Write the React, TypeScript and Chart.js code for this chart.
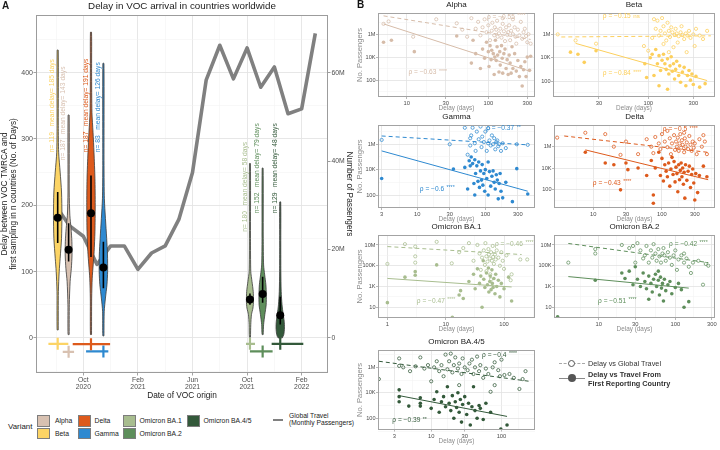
import React, { useEffect, useRef } from 'react';
import { Chart, registerables } from 'chart.js';

Chart.register(...registerables);

const FONT = '"Liberation Sans", Arial, Helvetica, sans-serif';

// ================= Panel A data =================
const variants = ['Beta', 'Alpha', 'Delta', 'Gamma', 'Omicron BA.1', 'Omicron BA.2', 'Omicron BA.4/5'];
const variantColors = ['#FCD465', '#D8C1B1', '#DD5A1C', '#2E89D0', '#A8BD8F', '#5E8E5B', '#33593A'];
// date of VOC origin, in months since Jan 2020
const originDate = [7.12, 7.92, 9.56, 10.47, 21.21, 22.14, 23.43];
const originLow = [6.44, 7.49, 8.22, 9.2, 20.92, 21.21, 22.8];
const originHigh = [7.9, 8.32, 10.96, 10.83, 21.58, 22.87, 25.12];
const originRow = [-9, -21, -9.5, -20.5, -9, -20.5, -9];
const violinDelay = [
  [12, 70, 100, 120, 150, 185, 220, 250, 280, 320, 434],
  [5, 50, 85, 105, 125, 145, 165, 185, 220, 336],
  [5, 60, 90, 110, 130, 160, 200, 240, 280, 310, 340, 400, 461],
  [3, 40, 60, 80, 100, 125, 150, 180, 210, 260, 414],
  [1, 20, 35, 45, 55, 70, 85, 100, 150, 263],
  [5, 20, 35, 50, 65, 80, 95, 110, 150, 256],
  [0, 5, 15, 25, 35, 50, 70, 100, 140, 205],
];
const violinHalfWidth = [
  [0.04, 0.05, 0.11, 0.18, 0.28, 0.31, 0.28, 0.18, 0.07, 0.045, 0.04],
  [0.04, 0.05, 0.11, 0.2, 0.25, 0.24, 0.18, 0.09, 0.045, 0.04],
  [0.04, 0.05, 0.09, 0.16, 0.23, 0.29, 0.31, 0.29, 0.22, 0.15, 0.07, 0.045, 0.04],
  [0.04, 0.06, 0.15, 0.26, 0.31, 0.3, 0.24, 0.15, 0.07, 0.045, 0.04],
  [0.04, 0.06, 0.11, 0.22, 0.26, 0.24, 0.15, 0.06, 0.04, 0.035],
  [0.04, 0.07, 0.16, 0.26, 0.27, 0.24, 0.15, 0.07, 0.045, 0.035],
  [0.15, 0.26, 0.31, 0.29, 0.22, 0.13, 0.07, 0.045, 0.04, 0.035],
];
const meanDelay = [181, 133, 188, 106, 58, 66, 34];
const meanLow = [143, 115, 122, 75, 50, 53, 20];
const meanHigh = [220, 173, 245, 145, 67, 92, 62];
const nCountries = [119, 187, 187, 83, 180, 152, 129];
const meanDelayDays = [185, 143, 191, 126, 58, 79, 48];
const labelStart = [280, 268, 280, 280, 160, 188, 188];

const travelMonth = [7, 8, 9, 10, 11, 12, 13, 14, 15, 16, 17, 18, 19, 20, 21, 22, 23, 24, 25, 26];
const travelPassengers = [29.8e6, 25.3e6, 23.0e6, 16.6e6, 20.8e6, 20.8e6, 15.5e6, 19.2e6, 20.8e6, 26.8e6,
  37.4e6, 58.3e6, 66.2e6, 58.6e6, 65.6e6, 56.7e6, 61.3e6, 50.7e6, 51.8e6, 68.9e6];

const monthTicks = [9, 13, 17, 21, 25];
const monthTickLabels = [['Oct', '2020'], ['Feb', '2021'], ['Jun', '2021'], ['Oct', '2021'], ['Feb', '2022']];
const monthMinorTicks = [7, 11, 15, 19, 23];
const delayTicks = [0, 100, 200, 300, 400];
const delayMinorTicks = [-50, 50, 150, 250, 350, 450];
const passengerTicks = [0, 2e7, 4e7, 6e7];
const passengerTickLabels = ['0', '20M', '40M', '60M'];

// ================= Panel B data =================
const bNames = ['Alpha', 'Beta', 'Gamma', 'Delta', 'Omicron BA.1', 'Omicron BA.2', 'Omicron BA.4/5'];
const bColors = ['#D6BCA9', '#FCCF5C', '#2E89D0', '#DD5A1C', '#A8BD8F', '#5E8E5B', '#33593A'];

const alphaGlobal = [[5.2, 8e6], [6, 1.3e7], [12, 6e5], [23, 2e7], [41, 9e6], [48, 2.5e6], [55, 6e5], [62, 2.5e7], [70, 3e6], [75, 1.2e7], [80, 8e5], [85, 4e6], [90, 2e7], [95, 1.5e6], [100, 6e6], [105, 3e5], [110, 2e6], [112, 1e7], [118, 8e5], [120, 4e6], [125, 2.5e6], [128, 1.5e7], [130, 6e5], [135, 1.2e6], [140, 3e6], [145, 5e5], [150, 8e6], [150, 2.5e7], [155, 1.8e6], [160, 2.5e5], [165, 4e6], [170, 9e5], [175, 1.5e6], [180, 6e6], [185, 3e5], [190, 2e6], [200, 1e6], [200, 2e7], [210, 4e6], [215, 6e5], [220, 1.5e5], [230, 2.5e6], [240, 8e5], [250, 1.2e7], [260, 4e5], [270, 1.5e6], [280, 3e6], [290, 7e5], [300, 2e5], [310, 1e6], [330, 1.5e5]];
const alphaFirst = [[5.2, 2e5], [6.5, 3e5], [12.4, 3e4], [41, 7e5], [62, 3e3], [65, 3e5], [70, 2e4], [80, 1e3], [85, 5e4], [90, 8e3], [95, 2e5], [100, 3e4], [102, 1.5e3], [105, 1e5], [108, 6e3], [110, 4e4], [115, 2e4], [118, 300], [120, 1e4], [122, 3e5], [125, 5e3], [128, 8e4], [130, 1.5e4], [135, 500], [138, 3e4], [140, 2e3], [145, 1e5], [148, 8e3], [150, 400], [155, 2e4], [160, 5e4], [165, 1e3], [170, 6e3], [175, 300], [180, 1.5e4], [185, 3e3], [190, 400], [195, 8e4], [200, 1e3], [210, 2e4], [220, 600], [230, 5e3], [240, 200], [250, 1.5e3], [260, 30], [270, 800], [280, 4e3], [290, 200], [300, 1e4], [320, 700], [330, 1.2e4]];
const alphaGlobalFit = [[5.2, 4e7], [330, 3.5e5]];
const alphaFirstFit = [[5.2, 8e6], [320, 600]];

const betaGlobal = [[11, 1e6], [17, 3e5], [28, 1.6e5], [90, 1e5], [100, 4e4], [110, 5e5], [115, 2e7], [120, 3e6], [125, 1.5e7], [130, 8e5], [135, 2e6], [140, 2.5e7], [145, 5e6], [145, 1.5e5], [150, 1.2e6], [155, 3e5], [160, 1e7], [165, 2e6], [165, 3e4], [170, 6e5], [175, 4e6], [180, 1.5e6], [185, 8e4], [190, 9e5], [195, 3e6], [200, 1.2e6], [205, 2e5], [210, 7e5], [220, 1.5e6], [225, 5e6], [230, 9e5], [240, 4e5], [250, 1.2e6], [255, 3e4], [260, 8e5], [270, 2e6], [280, 5e5], [300, 1e6], [310, 1e5], [320, 3e6], [350, 8e5], [380, 4e5], [420, 2e6]];
const betaFirst = [[15, 3e4], [18, 2e4], [21, 4e3], [28, 4e4], [92, 3e3], [96, 200], [105, 1e4], [110, 2e4], [115, 300], [120, 5e4], [125, 3e3], [130, 1.5e4], [130, 40], [135, 800], [140, 6e3], [145, 2e4], [150, 3e3], [155, 1e3], [160, 8e3], [160, 20], [165, 400], [170, 2e3], [175, 1.2e4], [180, 700], [185, 3e3], [190, 150], [195, 1e3], [200, 5e3], [210, 300], [215, 2e3], [220, 80], [230, 600], [240, 1.5e3], [250, 40], [260, 300], [270, 800], [280, 120], [290, 400], [300, 50], [320, 250], [350, 30], [400, 60]];
const betaGlobalFit = [[12, 6e5], [460, 7.5e5]];
const betaFirstFit = [[17, 1.7e5], [420, 110]];

const gammaGlobal = [[3, 2.2e6], [30, 1e6], [50, 2e7], [55, 1.5e5], [60, 8e5], [60, 3e6], [62, 5e6], [65, 2e7], [70, 1.2e6], [72, 3e5], [75, 1e7], [80, 2.5e6], [85, 2.5e7], [88, 6e5], [90, 4e6], [95, 1.5e6], [100, 1e7], [105, 3e5], [110, 1.2e6], [110, 1.8e7], [115, 2e6], [120, 8e5], [125, 5e6], [130, 1e6], [135, 3e6], [140, 4e5], [145, 1.5e6], [150, 2e6], [155, 7e5], [160, 1e6], [170, 3e5], [180, 1.2e6], [200, 5e5], [290, 1e6], [420, 9e5]];
const gammaFirst = [[3, 2e3], [34, 1.1e4], [50, 1.5e4], [55, 300], [58, 5e4], [60, 2e4], [62, 1e5], [65, 3e4], [68, 800], [70, 6e4], [70, 100], [72, 5e3], [75, 2e4], [78, 1.2e3], [80, 4e4], [82, 400], [85, 8e3], [88, 1.5e3], [90, 2.5e4], [92, 600], [95, 5e3], [98, 200], [100, 1e4], [105, 2e3], [110, 100], [110, 4e4], [115, 7e3], [120, 500], [125, 3e3], [130, 8e3], [135, 1e3], [140, 300], [145, 4e3], [150, 1.5e3], [155, 50], [160, 800], [165, 5e3], [170, 200], [180, 60], [200, 1e3], [250, 30], [290, 1.2e4], [420, 120]];
const gammaGlobalFit = [[3, 4.5e6], [420, 9e5]];
const gammaFirstFit = [[3, 3e5], [420, 200]];

const deltaGlobal = [[3, 7e6], [7.7, 2e7], [15, 1.5e7], [20, 1e6], [25, 1.7e5], [30, 3e6], [45, 2e5], [60, 5e6], [70, 1e6], [75, 2.5e5], [80, 8e6], [90, 2e6], [95, 6e5], [100, 1.5e7], [110, 3e6], [120, 9e5], [120, 3e7], [130, 6e6], [135, 2e5], [140, 2e6], [150, 1.2e7], [155, 5e5], [160, 3e6], [165, 1e6], [170, 7e6], [175, 4e5], [180, 2e6], [185, 1.5e7], [190, 8e5], [195, 4e6], [200, 1.5e6], [210, 3e5], [210, 2e7], [215, 6e6], [220, 1e6], [230, 2.5e6], [240, 6e5], [250, 1e7], [260, 1.5e6], [270, 4e5], [280, 3e6], [290, 8e5], [300, 2e6], [320, 2e5], [350, 5e6], [380, 1e6], [400, 1.2e7], [420, 3e6], [450, 2e5]];
const deltaFirst = [[7.7, 3e5], [15, 3e4], [20, 2e4], [25, 90], [30, 3e4], [32, 7e3], [45, 1e4], [60, 2e3], [70, 5e4], [75, 30], [75, 5], [80, 1e4], [90, 3e5], [95, 2e3], [100, 8e4], [105, 600], [110, 2e4], [115, 5e3], [120, 1.5e3], [125, 3e4], [130, 200], [135, 8e3], [140, 1e5], [145, 2.5e3], [150, 4e4], [155, 500], [160, 1.2e4], [165, 3e3], [170, 60], [175, 2e4], [180, 800], [185, 6e3], [190, 3e4], [195, 1.5e3], [200, 1e4], [205, 300], [210, 4e3], [215, 15], [220, 2e4], [230, 700], [240, 5e3], [250, 1.5e4], [260, 150], [270, 2.5e3], [280, 8e3], [290, 400], [300, 10], [310, 3e3], [330, 50], [350, 2e3], [400, 1.5e4], [450, 1.5e3]];
const deltaGlobalFit = [[3.8, 1e7], [500, 2.8e5]];
const deltaFirstFit = [[7.7, 5e5], [470, 800]];

const ba1Global = [[1, 1.5e5], [2, 1.2e7], [3, 7e6], [3, 8e5], [3, 2e5], [7, 2e7], [12.7, 1.7e5], [17, 2e6], [20, 5e6], [25, 1.5e7], [30, 3e5], [35, 1e7], [38, 1.5e6], [40, 4e4], [42, 6e5], [45, 3e6], [47, 1.2e5], [48, 1.5e7], [50, 8e5], [50, 3e4], [52, 2.5e5], [54, 4e6], [55, 1.2e6], [57, 5e5], [58, 1.5e4], [60, 2e6], [60, 5e3], [62, 3e5], [64, 8e6], [65, 7e5], [67, 1.5e5], [70, 1.2e6], [72, 4e5], [75, 3e6], [80, 6e5], [85, 1e5], [90, 2e6], [95, 3e5], [100, 5e4], [110, 1e6], [130, 4e3], [135, 1.5e4], [190, 4e5], [250, 4e5]];
const ba1First = [[1, 28], [2, 8e3], [3, 2.7e4], [3, 1.2e4], [7, 1.2e5], [13, 1.1], [17, 150], [18, 400], [20, 70], [25, 3e3], [30, 1.5e4], [32, 600], [35, 5e4], [38, 2e3], [40, 1e4], [42, 10], [44, 3e5], [45, 5e3], [47, 800], [50, 2e4], [52, 1.5e3], [54, 6e4], [55, 300], [57, 3e3], [58, 1e4], [60, 500], [62, 4e4], [63, 2e3], [65, 800], [67, 6e3], [70, 200], [72, 1.5e4], [75, 1e3], [80, 4e3], [85, 100], [90, 2e3], [100, 600], [120, 8e3], [135, 40]];
const ba1GlobalFit = [[1, 7e6], [200, 1.2e6]];
const ba1FirstFit = [[1, 6e3], [135, 900]];

const ba2Global = [[4, 2e5], [9, 4e6], [9, 1.5e6], [20, 1e7], [25, 5e6], [28, 8e6], [30, 2e5], [32, 1.5e7], [35, 3e6], [38, 5e5], [40, 1e6], [42, 8e6], [45, 2e5], [48, 3e6], [50, 6e5], [52, 1.2e7], [55, 1.5e6], [57, 3e5], [60, 4e6], [62, 8e5], [65, 2e5], [68, 1.5e6], [70, 5e6], [72, 1e6], [75, 3e5], [80, 2e6], [85, 6e5], [90, 1.2e5], [95, 1e6], [100, 3e6], [105, 4e4], [110, 4e5], [120, 1e6], [130, 2e5], [130, 1.5e6], [140, 5e5], [150, 8e4], [160, 2e4], [170, 2e5], [200, 3e5], [230, 1.5e3], [250, 1.5e5], [270, 1e5]];
const ba2First = [[2.9, 1.2], [9, 4e3], [20, 2e4], [22, 6e3], [25, 3e4], [28, 1.5e3], [30, 8e4], [32, 5e3], [35, 1e3], [38, 2e4], [40, 3e3], [42, 600], [45, 1e4], [45, 60], [48, 2e3], [50, 300], [52, 5e3], [55, 1.5e4], [57, 1e3], [60, 4e3], [60, 3e4], [62, 150], [64, 8e3], [66, 700], [68, 2e3], [70, 40], [72, 5e3], [75, 400], [80, 1.5e3], [85, 3e3], [90, 200], [100, 800], [110, 2e3], [120, 500], [130, 10], [150, 35]];
const ba2GlobalFit = [[4, 1.4e7], [270, 2e5]];
const ba2FirstFit = [[4, 9e3], [150, 700]];

const ba45Global = [[1.8, 1.2e5], [3.5, 5e6], [3.5, 1.3e6], [4, 1e6], [5, 5e5], [6, 1.2e6], [7, 6e6], [8, 8e5], [9, 1.5e6], [10, 8e4], [11, 1e6], [12, 3e6], [13, 5e5], [14, 1.5e6], [15, 2e5], [16, 1e7], [17, 7e5], [18, 3e6], [19, 1.2e7], [20, 4e5], [21, 1.5e6], [22, 6e6], [24, 8e5], [25, 2e6], [25, 4e4], [27, 3e5], [28, 5e6], [30, 1e6], [33, 6e5], [35, 2e6], [38, 4e6], [40, 3e5], [42, 1e6], [45, 7e6], [48, 5e5], [50, 1.5e6], [55, 1.5e5], [60, 8e5], [65, 3e5], [70, 1.2e4], [75, 1e6], [80, 4e4], [80, 2.5e6], [90, 6e5], [95, 2e5], [100, 4e6], [110, 2.5e5], [130, 3e5], [150, 1.5e5], [180, 2e4], [200, 1.2e5], [220, 5e5]];
const ba45First = [[3.5, 1.7e4], [3.5, 5e3], [3.5, 2e3], [4.8, 900], [7, 4e3], [7, 1.5e3], [7, 900], [10, 600], [11, 3e3], [12, 1.2e4], [13, 300], [14, 2e3], [15, 5e3], [16, 800], [17, 3e4], [18, 1.5e3], [19, 400], [20, 6e3], [21, 100], [22, 2e3], [23, 700], [24, 1e4], [25, 300], [26, 3e3], [27, 50], [28, 1.2e3], [30, 5e3], [32, 200], [34, 1.5e3], [36, 30], [38, 800], [40, 3e4], [42, 400], [45, 100], [48, 1e3], [50, 600], [55, 80], [60, 1.5e3], [70, 300], [98, 14], [120, 30]];
const ba45GlobalFit = [[1.8, 3e6], [250, 8e4]];
const ba45FirstFit = [[3.5, 6e3], [120, 140]];

const rhoGlobal = ['\u22120.55', '\u22120.15', '\u22120.37', '\u22120.5', '\u22120.46', '\u22120.42', '\u22120.4'];
const rhoGlobalSig = ['****', 'ns', '**', '****', '****', '****', '****'];
const rhoFirst = ['\u22120.63', '\u22120.84', '\u22120.6', '\u22120.43', '\u22120.47', '\u22120.51', '\u22120.39'];
const rhoFirstSig = ['****', '****', '****', '****', '****', '****', '**'];
const rhoGlobalAt = [[96, 3.2e7], [33, 3.7e7], [103, 1.8e7], [103, 4.2e7], [70, 1.25e7], [83, 1.25e7], [53, 9.2e6]];
const rhoFirstAt = [[10.5, 450], [33, 460], [10.9, 290], [9.9, 380], [3.2, 42], [9.8, 42], [2.8, 65]];

const bXRange = [[4.45, 373], [9.8, 509], [2.65, 537], [2.7, 590], [0.69, 340], [2.6, 330], [1.75, 300]];
const bYRange = [[3.3, 7.1e7], [4.3, 6.8e7], [9.5, 3.3e7], [1.8, 1.07e8], [0.93, 9.1e7], [0.93, 9.1e7], [12, 2.3e7]];
const bXTicks = [[10, 30, 100, 300], [30, 100, 300], [3, 10, 30, 100, 300], [10, 30, 100, 300], [1, 10, 100], [10, 30, 100, 300], [3, 10, 30, 100]];
const bXMinor = [[5.77, 17.3, 54.8, 173], [16.4, 54.8, 173], [5.48, 17.3, 54.8, 173], [5.77, 17.3, 54.8, 173, 520], [3.16, 31.6, 316], [5.77, 17.3, 54.8, 173], [5.48, 17.3, 54.8, 173]];
const yTicksEven = [100, 1e4, 1e6];
const yMinorEven = [10, 1e3, 1e5, 1e7];
const yTicksOdd = [10, 1e3, 1e5, 1e7];
const yMinorOdd = [1, 100, 1e4, 1e6];
const bYTicks = [yTicksEven, yTicksEven, yTicksEven, yTicksEven, yTicksOdd, yTicksOdd, yTicksEven];
const bYMinor = [yMinorEven, yMinorEven, yMinorEven, yMinorEven, yMinorOdd, yMinorOdd, yMinorEven];

const bGlobal = [alphaGlobal, betaGlobal, gammaGlobal, deltaGlobal, ba1Global, ba2Global, ba45Global];
const bFirst = [alphaFirst, betaFirst, gammaFirst, deltaFirst, ba1First, ba2First, ba45First];
const bGlobalFit = [alphaGlobalFit, betaGlobalFit, gammaGlobalFit, deltaGlobalFit, ba1GlobalFit, ba2GlobalFit, ba45GlobalFit];
const bFirstFit = [alphaFirstFit, betaFirstFit, gammaFirstFit, deltaFirstFit, ba1FirstFit, ba2FirstFit, ba45FirstFit];

// layout boxes of panel B (page pixels)
const bBoxes = [
  { x: 355, y: 0, w: 185, h: 113, l: 378, r: 535, t: 13, b: 97, yTitle: true },
  { x: 538, y: 0, w: 182, h: 113, l: 553, r: 715, t: 13, b: 97, yTitle: false },
  { x: 355, y: 110, w: 185, h: 113, l: 378, r: 535, t: 125, b: 208, yTitle: true },
  { x: 538, y: 110, w: 182, h: 113, l: 554, r: 715, t: 125, b: 208, yTitle: false },
  { x: 355, y: 220, w: 185, h: 113, l: 378, r: 535, t: 235, b: 318, yTitle: true },
  { x: 538, y: 220, w: 182, h: 113, l: 554, r: 715, t: 235, b: 318, yTitle: false },
  { x: 355, y: 330, w: 185, h: 118, l: 378, r: 535, t: 350, b: 430, yTitle: true },
];

// ================= helpers =================
const has = (arr: number[], v: number) => arr.some((a) => Math.abs(a - v) <= 1e-9 * Math.max(1, Math.abs(a)));
const fmtCount = (v: number) => (v >= 1e6 ? `${v / 1e6}M` : v >= 1e3 ? `${v / 1e3}K` : `${v}`);
const toPts = (arr: number[][]) => arr.map(([x, y]) => ({ x, y }));

function strokeFrame(ctx: CanvasRenderingContext2D, ca: any, color: string) {
  ctx.save();
  ctx.strokeStyle = color;
  ctx.lineWidth = 1;
  const l = Math.round(ca.left) + 0.5, t = Math.round(ca.top) + 0.5;
  const r = Math.round(ca.right) - 0.5, b = Math.round(ca.bottom) - 0.5;
  ctx.strokeRect(l, t, r - l, b - t);
  ctx.restore();
}

function buildA(): any {
  const datasets: any[] = [];
  datasets.push({
    data: travelMonth.map((m, i) => ({ x: m, y: travelPassengers[i] })),
    yAxisID: 'y2', borderColor: '#808080', borderWidth: 3.6, pointRadius: 0,
    borderJoinStyle: 'round', fill: false, order: 10,
  });
  variants.forEach((_, i) => {
    const c = originDate[i];
    const ys = violinDelay[i];
    const ws = violinHalfWidth[i];
    const right = ys.map((y, k) => ({ x: c + ws[k], y }));
    const left = ys.map((y, k) => ({ x: c - ws[k], y })).reverse();
    datasets.push({
      data: [...right, ...left, right[0]], yAxisID: 'y',
      borderColor: '#3a3a3a', borderWidth: 0.8, backgroundColor: variantColors[i],
      fill: 'shape', pointRadius: 0, tension: 0.25, order: 6,
    });
  });
  variants.forEach((_, i) => {
    const r = originRow[i];
    const c = originDate[i];
    datasets.push({
      data: [{ x: originLow[i], y: r }, { x: originHigh[i], y: r }, { x: c, y: null }, { x: c, y: r - 9 }, { x: c, y: r + 9 }],
      yAxisID: 'y', borderColor: variantColors[i], borderWidth: 2.2, pointRadius: 0, fill: false, order: 4,
    });
  });
  const bars: any[] = [];
  variants.forEach((_, i) => {
    bars.push({ x: originDate[i], y: meanLow[i] }, { x: originDate[i], y: meanHigh[i] }, { x: originDate[i], y: null });
  });
  datasets.push({ data: bars, yAxisID: 'y', borderColor: '#000', borderWidth: 1.6, pointRadius: 0, fill: false, order: 3 });
  datasets.push({
    data: variants.map((_, i) => ({ x: originDate[i], y: meanDelay[i] })), yAxisID: 'y',
    showLine: false, pointRadius: 4, pointBackgroundColor: '#000', pointBorderWidth: 0, order: 2,
  });

  const gridColor = (majors: number[]) => (c: any) => (c.tick && has(majors, c.tick.value) ? '#e4e4e4' : '#f1f1f1');
  const gridWidth = (majors: number[]) => (c: any) => (c.tick && has(majors, c.tick.value) ? 0.9 : 0.5);
  const tickColor = (majors: number[]) => (c: any) => (c.tick && has(majors, c.tick.value) ? '#9a9a9a' : 'rgba(0,0,0,0)');

  const deco = {
    id: 'decoA',
    afterDatasetsDraw(chart: any) {
      const { ctx, chartArea: ca, scales } = chart;
      const x = scales.x, y = scales.y;
      strokeFrame(ctx, ca, '#9c9c9c');
      ctx.save();
      variants.forEach((_, i) => {
        const px = x.getPixelForValue(originDate[i] - 0.37);
        const py = y.getPixelForValue(labelStart[i]);
        ctx.save();
        ctx.translate(px, py);
        ctx.rotate(-Math.PI / 2);
        ctx.font = `6.7px ${FONT}`;
        ctx.fillStyle = variantColors[i];
        ctx.textAlign = 'left';
        ctx.textBaseline = 'middle';
        ctx.fillText(`n= ${nCountries[i]}   mean delay= ${meanDelayDays[i]} days`, 0, 0);
        ctx.restore();
      });
      ctx.fillStyle = '#1a1a1a';
      ctx.font = `9.8px ${FONT}`;
      ctx.textAlign = 'center';
      ctx.textBaseline = 'middle';
      ctx.fillText('Delay in VOC arrival in countries worldwide', (ca.left + ca.right) / 2, 6.5);
      ctx.font = `bold 10px ${FONT}`;
      ctx.textAlign = 'left';
      ctx.fillText('A', 2, 6.5);
      ctx.restore();
    },
  };

  return {
    type: 'line',
    data: { datasets },
    plugins: [deco],
    options: {
      animation: false, responsive: false, devicePixelRatio: 1, events: [],
      layout: { padding: { top: 15, left: 0, right: 0, bottom: 0 } },
      plugins: { legend: { display: false }, tooltip: { enabled: false } },
      scales: {
        x: {
          type: 'linear', min: 5.53, max: 26.93,
          afterBuildTicks: (s: any) => { s.ticks = [...monthMinorTicks, ...monthTicks].sort((a, b) => a - b).map((v) => ({ value: v })); },
          afterFit: (s: any) => { s.height = 32; },
          ticks: {
            autoSkip: false, maxRotation: 0, padding: 1, color: '#4d4d4d',
            font: { family: FONT, size: 6.8, lineHeight: 1.05 },
            callback: (v: number) => { const k = monthTicks.indexOf(v); return k >= 0 ? monthTickLabels[k] : ''; },
          },
          grid: { color: gridColor(monthTicks), lineWidth: gridWidth(monthTicks), tickLength: 2.5, tickColor: tickColor(monthTicks) },
          border: { display: false },
          title: { display: true, text: 'Date of VOC origin', color: '#1a1a1a', font: { family: FONT, size: 8.3 }, padding: { top: 0, bottom: 4 } },
        },
        y: {
          type: 'linear', position: 'left', min: -53, max: 487,
          afterBuildTicks: (s: any) => { s.ticks = [...delayMinorTicks, ...delayTicks].sort((a, b) => a - b).map((v) => ({ value: v })); },
          afterFit: (s: any) => { s.width = 36; },
          ticks: {
            autoSkip: false, padding: 0.5, color: '#4d4d4d', font: { family: FONT, size: 7 },
            callback: (v: number) => (has(delayTicks, v) ? String(v) : ''),
          },
          grid: { color: gridColor(delayTicks), lineWidth: gridWidth(delayTicks), tickLength: 2.5, tickColor: tickColor(delayTicks) },
          border: { display: false },
          title: {
            display: true, text: ['Delay between VOC TMRCA and', 'first sampling in n countries (No. of Days)'],
            color: '#1a1a1a', font: { family: FONT, size: 8.3, lineHeight: 1.0 }, padding: { top: 1, bottom: 0 },
          },
        },
        y2: {
          type: 'linear', position: 'right', min: -7.95e6, max: 7.305e7,
          afterBuildTicks: (s: any) => { s.ticks = passengerTicks.map((v) => ({ value: v })); },
          afterFit: (s: any) => { s.width = 27; },
          ticks: {
            autoSkip: false, padding: 1, color: '#4d4d4d', font: { family: FONT, size: 6.8 },
            callback: (v: number) => passengerTickLabels[passengerTicks.indexOf(v)] ?? '',
          },
          grid: { drawOnChartArea: false, tickLength: 2.5, tickColor: '#9a9a9a' },
          border: { display: false },
          title: { display: true, text: 'Number of Passengers', color: '#1a1a1a', font: { family: FONT, size: 8.3 }, padding: { top: 1, bottom: 0 } },
        },
      },
    },
  };
}

function buildB(i: number): any {
  const box = bBoxes[i];
  const color = bColors[i];
  const xMaj = bXTicks[i], xMin = bXMinor[i];
  const yMaj = bYTicks[i], yMin = bYMinor[i];
  const datasets = [
    {
      data: toPts(bGlobal[i]), showLine: false, pointRadius: 1.6, pointBorderWidth: 0.75,
      pointBackgroundColor: 'rgba(255,255,255,0)', pointBorderColor: color, order: 4,
    },
    {
      data: toPts(bFirst[i]), showLine: false, pointRadius: 1.8, pointBorderWidth: 0,
      pointBackgroundColor: color, pointBorderColor: color, order: 3,
    },
    { data: toPts(bGlobalFit[i]), borderColor: color, borderWidth: 1, borderDash: [4, 3], pointRadius: 0, fill: false, order: 1 },
    { data: toPts(bFirstFit[i]), borderColor: color, borderWidth: 1, pointRadius: 0, fill: false, order: 1 },
  ];
  const gridColor = (majors: number[]) => (c: any) => (c.tick && has(majors, c.tick.value) ? '#e2e2e2' : '#f1f1f1');
  const gridWidth = (majors: number[]) => (c: any) => (c.tick && has(majors, c.tick.value) ? 0.8 : 0.5);
  const tickColor = (majors: number[]) => (c: any) => (c.tick && has(majors, c.tick.value) ? '#a6a6a6' : 'rgba(0,0,0,0)');

  const drawRho = (ctx: any, x: any, y: any, rho: string, sig: string, at: number[]) => {
    const px = x.getPixelForValue(at[0]);
    const py = y.getPixelForValue(at[1]);
    ctx.font = `6.6px ${FONT}`;
    ctx.textAlign = 'left';
    ctx.textBaseline = 'middle';
    const t = `\u03C1 = ${rho}`;
    ctx.fillText(t, px, py);
    const w = ctx.measureText(t).width;
    ctx.font = `${sig === 'ns' ? 6.2 : 5.2}px ${FONT}`;
    ctx.fillText(sig, px + w + 2.5, sig === 'ns' ? py : py - 1.2);
  };

  const deco = {
    id: 'decoB' + i,
    afterDatasetsDraw(chart: any) {
      const { ctx, chartArea: ca, scales } = chart;
      strokeFrame(ctx, ca, '#a3a3a3');
      ctx.save();
      ctx.fillStyle = color;
      drawRho(ctx, scales.x, scales.y, rhoGlobal[i], rhoGlobalSig[i], rhoGlobalAt[i]);
      drawRho(ctx, scales.x, scales.y, rhoFirst[i], rhoFirstSig[i], rhoFirstAt[i]);
      const cx = (ca.left + ca.right) / 2;
      ctx.fillStyle = '#1a1a1a';
      ctx.font = `8px ${FONT}`;
      ctx.textAlign = 'center';
      ctx.textBaseline = 'middle';
      ctx.fillText(bNames[i], cx, ca.top - 8);
      ctx.fillStyle = '#8c8c8c';
      ctx.font = `6.4px ${FONT}`;
      ctx.fillText('Delay (days)', cx, ca.bottom + 11.5);
      if (box.yTitle) {
        ctx.save();
        ctx.translate(5, (ca.top + ca.bottom) / 2);
        ctx.rotate(-Math.PI / 2);
        ctx.font = `7.6px ${FONT}`;
        ctx.fillText('No. Passengers', 0, 0);
        ctx.restore();
      }
      ctx.restore();
    },
  };

  return {
    type: 'line',
    data: { datasets },
    plugins: [deco],
    options: {
      animation: false, responsive: false, devicePixelRatio: 1, events: [],
      layout: { padding: { top: box.t - box.y, right: box.x + box.w - box.r, left: 0, bottom: 0 } },
      plugins: { legend: { display: false }, tooltip: { enabled: false } },
      scales: {
        x: {
          type: 'logarithmic', min: bXRange[i][0], max: bXRange[i][1],
          afterBuildTicks: (s: any) => { s.ticks = [...xMin, ...xMaj].sort((a, b) => a - b).map((v) => ({ value: v })); },
          afterFit: (s: any) => { s.height = box.y + box.h - box.b; },
          ticks: {
            autoSkip: false, maxRotation: 0, padding: 0.5, color: '#4d4d4d', font: { family: FONT, size: 5.8 },
            callback: (v: number) => (has(xMaj, v) ? fmtCount(v) : ''),
          },
          grid: { color: gridColor(xMaj), lineWidth: gridWidth(xMaj), tickLength: 2, tickColor: tickColor(xMaj) },
          border: { display: false },
        },
        y: {
          type: 'logarithmic', min: bYRange[i][0], max: bYRange[i][1],
          afterBuildTicks: (s: any) => { s.ticks = [...yMin, ...yMaj].sort((a, b) => a - b).map((v) => ({ value: v })); },
          afterFit: (s: any) => { s.width = box.l - box.x; },
          ticks: {
            autoSkip: false, padding: 0.5, color: '#4d4d4d', font: { family: FONT, size: 5.6 },
            callback: (v: number) => (has(yMaj, v) ? fmtCount(v) : ''),
          },
          grid: { color: gridColor(yMaj), lineWidth: gridWidth(yMaj), tickLength: 2, tickColor: tickColor(yMaj) },
          border: { display: false },
        },
      },
    },
  };
}

function ChartCanvas({ build, left, top, width, height }: any) {
  const ref = useRef<HTMLCanvasElement>(null);
  useEffect(() => {
    const chart = new Chart(ref.current as HTMLCanvasElement, build());
    return () => chart.destroy();
  }, []);
  return (
    <canvas
      ref={ref}
      width={width}
      height={height}
      style={{ position: 'absolute', left, top, width, height }}
    />
  );
}

const abs = (left: number, top: number, extra: any = {}) => ({ position: 'absolute' as const, left, top, ...extra });

const legendA = [
  { name: 'Alpha', color: '#D8C1B1', x: 37, y: 415, lx: 55 },
  { name: 'Beta', color: '#FCD465', x: 37, y: 427.5, lx: 55 },
  { name: 'Delta', color: '#DD5A1C', x: 77.5, y: 415, lx: 94.5 },
  { name: 'Gamma', color: '#2E89D0', x: 77.5, y: 427.5, lx: 94.5 },
  { name: 'Omicron BA.1', color: '#A8BD8F', x: 123, y: 415, lx: 139.5 },
  { name: 'Omicron BA.2', color: '#5E8E5B', x: 123, y: 427.5, lx: 139.5 },
  { name: 'Omicron BA.4/5', color: '#33593A', x: 187, y: 415, lx: 203.5 },
];

export default function App() {
  return (
    <div style={{ position: 'fixed', left: 0, top: 0, width: 720, height: 450, background: '#fff', fontFamily: FONT, overflow: 'hidden' }}>
      <ChartCanvas build={buildA} left={0} top={0} width={355} height={405} />
      {bBoxes.map((b, i) => (
        <ChartCanvas key={i} build={() => buildB(i)} left={b.x} top={b.y} width={b.w} height={b.h} />
      ))}
      <div style={abs(357, -1, { fontWeight: 'bold', fontSize: 10, color: '#111' })}>B</div>

      {/* Panel A legend */}
      <div style={abs(8, 421.5, { fontSize: 7.9, color: '#1a1a1a', lineHeight: '10px' })}>Variant</div>
      {legendA.map((e) => (
        <React.Fragment key={e.name}>
          <div style={abs(e.x, e.y, { width: 13, height: 11.5, background: e.color, border: '0.8px solid #7d7d7d', boxSizing: 'border-box' })} />
          <div style={abs(e.lx, e.y + 1.3, { fontSize: 6.8, color: '#1a1a1a', lineHeight: '9px', whiteSpace: 'nowrap' })}>{e.name}</div>
        </React.Fragment>
      ))}
      <div style={abs(273, 418.8, { width: 10, height: 2.6, background: '#808080' })} />
      <div style={abs(289, 412.8, { fontSize: 6.7, color: '#1a1a1a', lineHeight: '6.8px', whiteSpace: 'nowrap' })}>
        Global Travel<br />(Monthly Passengers)
      </div>

      {/* Panel B legend */}
      <div style={abs(559, 363, { width: 26, height: 0, borderTop: '1px dashed #a8a8a8' })} />
      <div style={abs(568.2, 359.8, { width: 7, height: 7, borderRadius: '50%', border: '1px solid #555', background: '#fff', boxSizing: 'border-box' })} />
      <div style={abs(588, 358.5, { fontSize: 7.3, color: '#333', lineHeight: '9px', whiteSpace: 'nowrap' })}>Delay vs Global Travel</div>
      <div style={abs(559, 377.5, { width: 26, height: 0, borderTop: '1px solid #8a8a8a' })} />
      <div style={abs(567.7, 373.7, { width: 8, height: 8, borderRadius: '50%', background: '#555' })} />
      <div style={abs(588, 369.8, { fontSize: 7.3, fontWeight: 'bold', color: '#333', lineHeight: '9px', whiteSpace: 'nowrap' })}>
        Delay vs Travel From<br />First Reporting Country
      </div>
    </div>
  );
}
